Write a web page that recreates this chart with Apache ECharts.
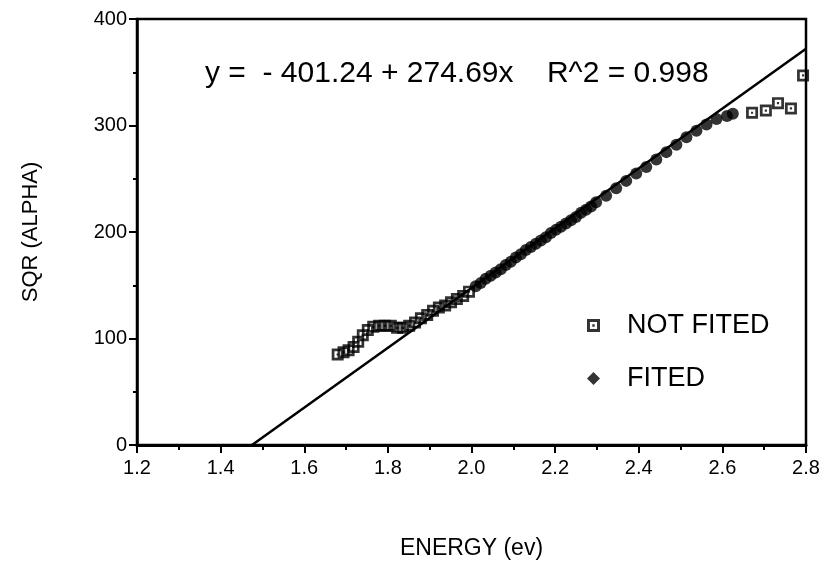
<!DOCTYPE html>
<html>
<head>
    <meta charset="utf-8">
    <title>SQR (ALPHA) vs ENERGY</title>
    <script src="https://cdn.jsdelivr.net/npm/echarts@6/dist/echarts.min.js"></script>
</head>
<body style="margin:0;background:#fff;">
    <div id="main" style="width: 840px;height:582px;"></div>

    <script type="text/javascript">
        // points not used in the fit (low and high energy ends)
        var notFitedX = [1.680, 1.694, 1.706, 1.718, 1.729, 1.740, 1.752, 1.765, 1.779, 1.793, 1.807, 1.822,
            1.836, 1.851, 1.865, 1.879, 1.894, 1.908, 1.922, 1.937, 1.951, 1.965, 1.980, 1.994,
            2.671, 2.704, 2.733, 2.764, 2.793];
        var notFitedY = [85, 87, 89, 92, 97, 103, 108, 111, 112, 112, 112, 110,
            110, 112, 115, 119, 122, 126, 129, 131, 134, 137, 140, 144,
            312, 314, 321, 316, 347];

        // points used in the fit
        var fitedX = [2.010, 2.022, 2.034, 2.046, 2.058, 2.070, 2.082, 2.094, 2.106, 2.118, 2.130, 2.142,
            2.154, 2.166, 2.178, 2.190, 2.202, 2.214, 2.226, 2.238, 2.250, 2.262, 2.274, 2.286, 2.298,
            2.322, 2.346, 2.370, 2.394, 2.418, 2.442, 2.466, 2.490, 2.514, 2.538, 2.562, 2.586, 2.611, 2.625];
        var fitedY = [149, 152, 156, 159, 162, 165, 169, 172, 176, 179, 183, 186,
            189, 192, 195, 199, 202, 205, 208, 211, 214, 218, 221, 224, 228,
            234, 241, 248, 255, 261, 268, 275, 282, 289, 295, 301, 306, 309, 311];

        // fitted straight line, end points
        var fitLineX = [1.475, 2.8];
        var fitLineY = [0, 372];

        var xTicks = [1.2, 1.4, 1.6, 1.8, 2.0, 2.2, 2.4, 2.6, 2.8];
        var yTicks = [0, 100, 200, 300, 400];

        var zip = function (xs, ys) {
            var res = [];
            for (var i = 0; i < xs.length; i++) {
                res.push([xs[i], ys[i]]);
            }
            return res;
        };

        var squareDot = 'path://M0,0H11V11H0Z M2.5,2.5V8.5H8.5V2.5Z M4.5,4.5H6.5V6.5H4.5Z';
        var font = 'Liberation Sans';

        var myChart = echarts.init(document.getElementById('main'));

        var option = {
            backgroundColor: '#fff',
            animation: false,
            textStyle: { fontFamily: font, color: '#000' },
            grid: {
                left: 137, right: 34, top: 19, bottom: 137,
                show: true, borderColor: '#000', borderWidth: 2.5
            },
            xAxis: {
                type: 'value',
                min: 1.2, max: 2.8, interval: 0.2,
                name: 'ENERGY (ev)',
                nameLocation: 'middle',
                nameGap: 92,
                nameTextStyle: { fontSize: 23, fontFamily: font, color: '#000' },
                axisLine: { show: true, lineStyle: { color: '#000', width: 3 } },
                axisTick: { show: true, length: 8, lineStyle: { color: '#000', width: 2 } },
                minorTick: { show: true, splitNumber: 2, length: 5, lineStyle: { color: '#000', width: 2 } },
                splitLine: { show: false },
                axisLabel: {
                    fontSize: 20, color: '#000', margin: 13,
                    formatter: function (v) {
                        var s = v.toFixed(1);
                        return xTicks.indexOf(parseFloat(s)) >= 0 ? s : '';
                    }
                }
            },
            yAxis: {
                type: 'value',
                min: 0, max: 400, interval: 100,
                name: 'SQR (ALPHA)',
                nameLocation: 'middle',
                nameGap: 95,
                nameTextStyle: { fontSize: 22, fontFamily: font, color: '#000' },
                axisLine: { show: true, lineStyle: { color: '#000', width: 2.5 } },
                axisTick: { show: true, length: 8, lineStyle: { color: '#000', width: 2 } },
                minorTick: { show: true, splitNumber: 2, length: 4, lineStyle: { color: '#000', width: 2 } },
                splitLine: { show: false },
                axisLabel: {
                    fontSize: 20, color: '#000', margin: 10,
                    formatter: function (v) {
                        return yTicks.indexOf(v) >= 0 ? String(v) : '';
                    }
                }
            },
            legend: {
                orient: 'vertical',
                left: 582,
                top: 307,
                itemGap: 26,
                itemWidth: 13,
                itemHeight: 13,
                textStyle: { fontSize: 27, fontFamily: font, color: '#000', padding: [0, 0, 0, 22] },
                data: [
                    { name: 'NOT FITED', icon: squareDot },
                    { name: 'FITED', icon: 'diamond' }
                ]
            },
            graphic: [{
                type: 'text',
                left: 205,
                top: 59,
                style: {
                    text: 'y =  - 401.24 + 274.69x    R^2 = 0.998',
                    fontSize: 30,
                    fontFamily: font,
                    fill: '#000'
                }
            }],
            series: [{
                name: 'fit',
                type: 'line',
                data: zip(fitLineX, fitLineY),
                showSymbol: false,
                lineStyle: { color: '#000', width: 2.5 },
                z: 1
            }, {
                name: 'NOT FITED',
                type: 'scatter',
                data: zip(notFitedX, notFitedY),
                symbol: squareDot,
                symbolSize: 12,
                itemStyle: { color: '#000' },
                z: 3
            }, {
                name: 'FITED',
                type: 'scatter',
                data: zip(fitedX, fitedY),
                symbol: 'circle',
                symbolSize: 12,
                itemStyle: { color: '#000' },
                z: 2
            }]
        };

        myChart.setOption(option);
    </script>
</body>
</html>
